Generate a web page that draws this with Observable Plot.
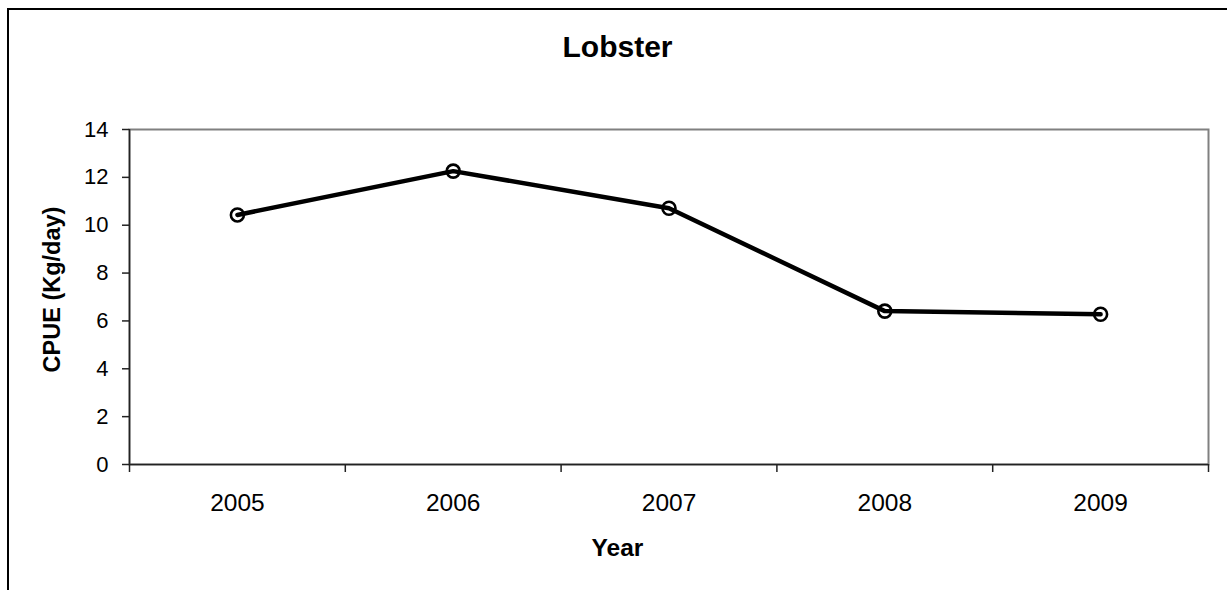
<!DOCTYPE html>
<html>
<head>
<meta charset="utf-8">
<script src="https://cdn.jsdelivr.net/npm/d3@7"></script>
<script src="https://cdn.jsdelivr.net/npm/@observablehq/plot@0.6"></script>
<style>
  html, body { margin: 0; padding: 0; background: #fff; }
  #wrap { position: relative; width: 1227px; height: 590px; overflow: hidden; }
  #outer { position: absolute; left: 7px; top: 8px; width: 1300px; height: 700px;
           border-left: 2.5px solid #000; border-top: 2.5px solid #000; box-sizing: border-box; pointer-events: none; }
  svg { display: block; }
</style>
</head>
<body>
<div id="wrap"><div id="outer"></div></div>
<script>
const years = [2005, 2006, 2007, 2008, 2009];
const cpue = [10.43, 12.26, 10.71, 6.41, 6.28];
const yTicks = [0, 2, 4, 6, 8, 10, 12, 14];
const categoryBounds = [2004.5, 2005.5, 2006.5, 2007.5, 2008.5, 2009.5];
const titleText = "Lobster";
const xTitle = "Year";
const yTitle = "CPUE (Kg/day)";

const data = years.map((year, i) => ({year, cpue: cpue[i]}));

const chart = Plot.plot({
  width: 1227,
  height: 590,
  marginLeft: 129,
  marginRight: 19,
  marginTop: 129,
  marginBottom: 126,
  style: {fontFamily: "'Liberation Sans', Arial, sans-serif", fontSize: "22px", background: "transparent", color: "#000"},
  x: {domain: [categoryBounds[0], categoryBounds[categoryBounds.length - 1]], axis: null},
  y: {domain: [0, 14], axis: null},
  marks: [
    Plot.frame({stroke: "#808080", strokeWidth: 2}),
    Plot.axisY(yTicks, {tickSize: 7, tickPadding: 14, tickFormat: d => String(d), label: null, fontSize: 22, stroke: "#222", strokeWidth: 1.5}),
    Plot.axisX(categoryBounds, {tickSize: 8, tickFormat: () => "", label: null, stroke: "#222", strokeWidth: 1.5}),
    Plot.axisX(years, {tickSize: 0, tickPadding: 29, tickFormat: d => String(d), label: null, fontSize: 24.5}),
    Plot.ruleX([categoryBounds[0]], {stroke: "#222", strokeWidth: 1.5}),
    Plot.ruleY([0], {stroke: "#222", strokeWidth: 1.5}),
    Plot.line(data, {x: "year", y: "cpue", stroke: "#000", strokeWidth: 4.5}),
    Plot.dot(data, {x: "year", y: "cpue", r: 6.5, stroke: "#000", strokeWidth: 2.6, fill: "none"}),
    Plot.text([titleText], {frameAnchor: "top", dx: -51.5, dy: -94, lineAnchor: "top", textAnchor: "middle", fontSize: 30, fontWeight: "bold", fill: "#000"}),
    Plot.text([xTitle], {frameAnchor: "bottom", dx: -51.5, dy: 74, lineAnchor: "top", textAnchor: "middle", fontSize: 24.5, fontWeight: "bold", fill: "#000"}),
    Plot.text([yTitle], {frameAnchor: "left", dx: -77, dy: -7.5, rotate: -90, lineAnchor: "middle", textAnchor: "middle", fontSize: 23.5, fontWeight: "bold", fill: "#000"})
  ]
});
document.getElementById("wrap").prepend(chart);
</script>
</body>
</html>
